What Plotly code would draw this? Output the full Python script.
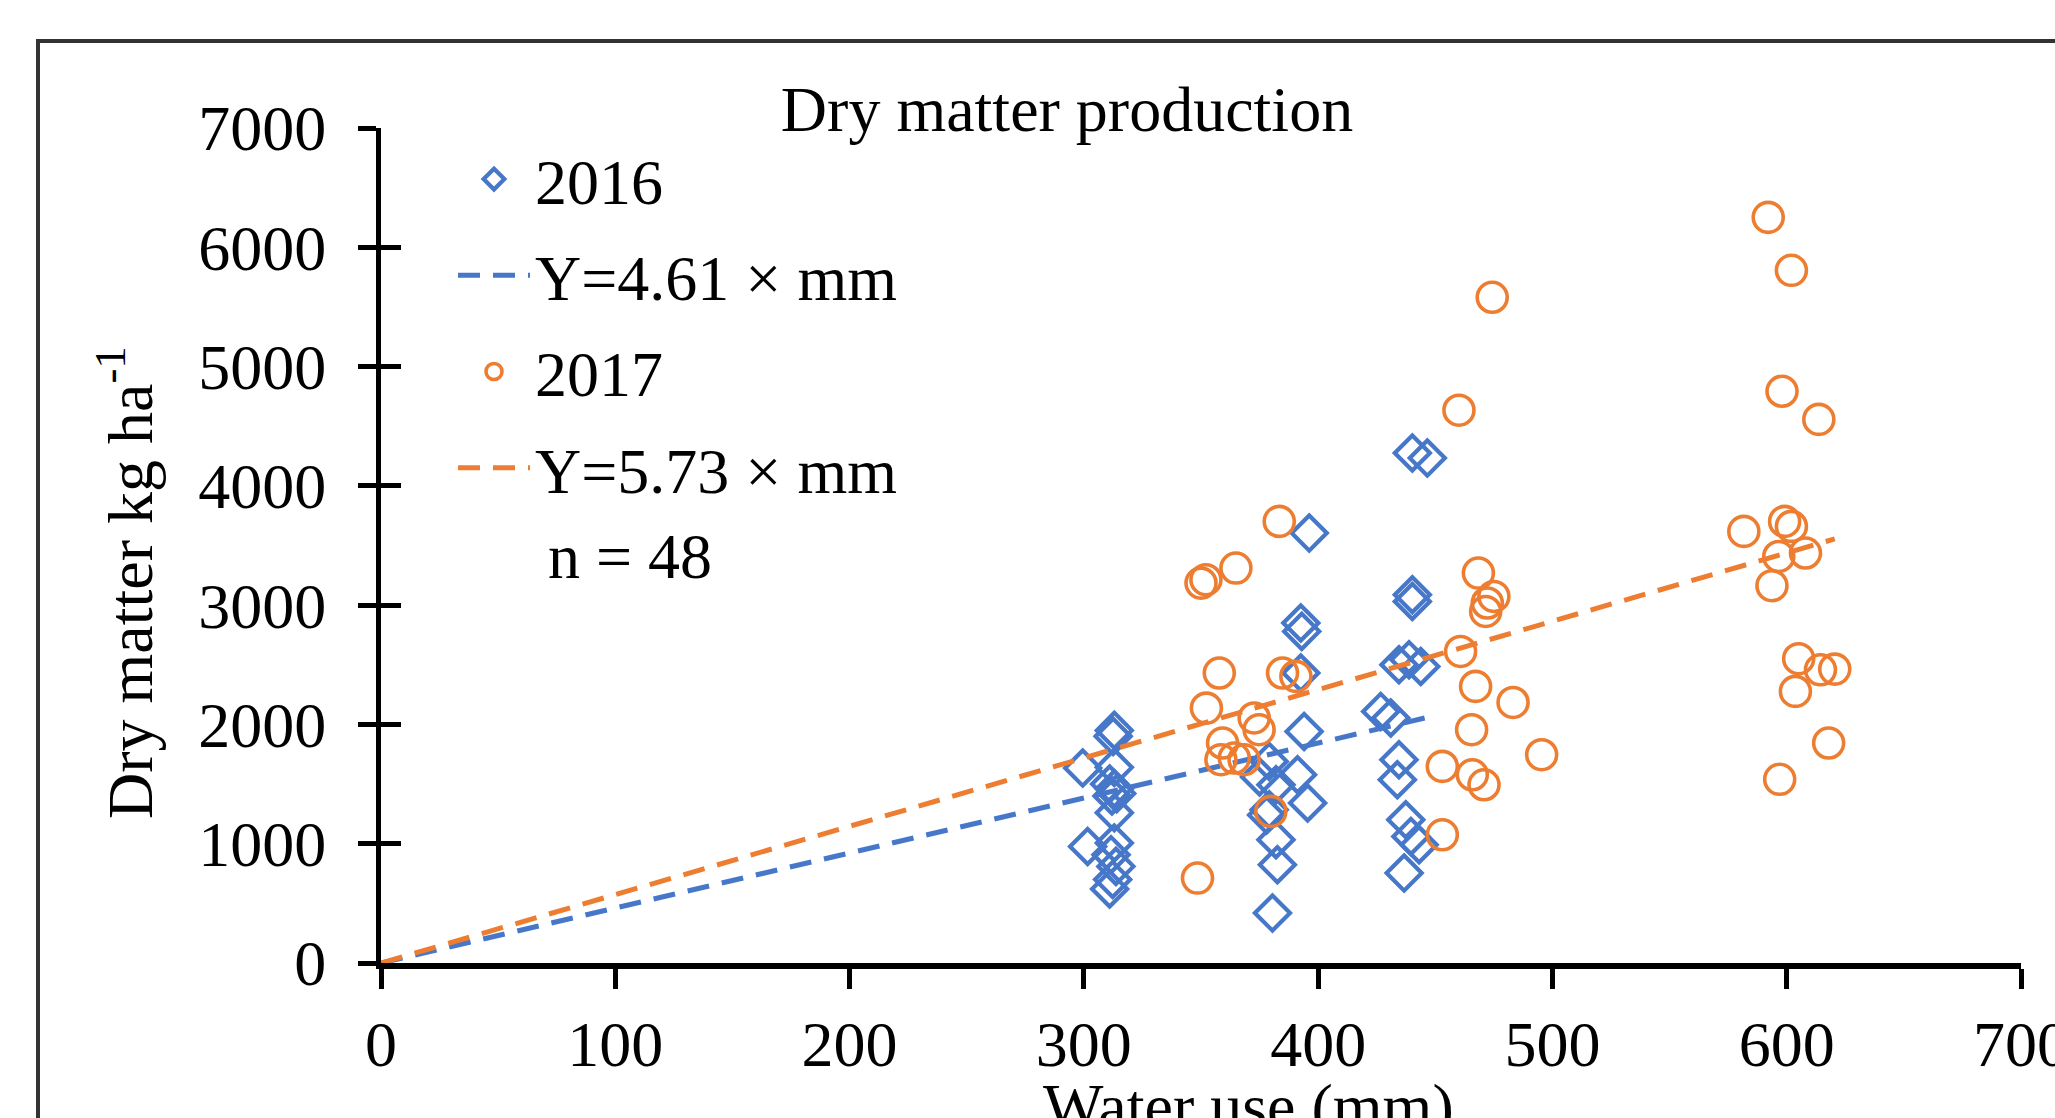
import plotly.graph_objects as go

# ---- data ----
wu_2016 = [313, 312.5, 299.5, 313, 311, 313, 314, 312, 313, 301.6, 313, 311.6, 313.7, 312.3, 311,
           396.2, 392.6, 393, 392.6, 394, 379.1, 391.2, 375, 382, 395.5, 379.1, 378, 382, 382.6, 380.5,
           440.2, 446.6, 440.2, 440.2, 434.5, 438.8, 443.8, 426.7, 431, 434.5, 433.8, 437.4, 439.6, 443.1, 436.7]
dm_2016 = [1950, 1900, 1634, 1640, 1500, 1460, 1420, 1400, 1259, 977, 1006, 908, 810, 700, 620,
           3604, 2850, 2780, 2431, 1941, 1690, 1578, 1560, 1494, 1341, 1285, 1240, 1034, 824, 419,
           4275, 4233, 3087, 3031, 2500, 2543, 2486, 2109, 2054, 1704, 1536, 1201, 1061, 992, 754]

wu_2017 = [383.4, 364.9, 350, 352.1, 357.8, 384.8, 390.5, 352.3, 372.7, 374.8, 359.2, 358.5, 364.2, 368.4, 379.8, 348.5,
           474.3, 460.1, 468.4, 475, 472.2, 471.5, 460.8, 467.2, 483.2, 465.5, 453, 465.8, 470.8, 495.4, 453,
           592.1, 602, 598, 613.7, 581.7, 599.1, 602, 596.6, 608, 593.7, 605.1, 614.4, 620.5, 603.7, 617.9, 597]
dm_2017 = [3702, 3311, 3185, 3213, 2431, 2431, 2403, 2137, 2054, 1956, 1844, 1704, 1718, 1704, 1271, 712,
           5581, 4634, 3269, 3073, 3018, 2947, 2612, 2319, 2184, 1956, 1648, 1578, 1494, 1746, 1075,
           6251, 5807, 4793, 4557, 3618, 3702, 3660, 3408, 3437, 3163, 2551, 2458, 2464, 2277, 1844, 1540]

slope_2016 = 4.61
slope_2017 = 5.73
x_ticks = [0, 100, 200, 300, 400, 500, 600, 700]
y_ticks = [0, 1000, 2000, 3000, 4000, 5000, 6000, 7000]

BLUE = "#4677C8"
ORANGE = "#ED7D31"
FONT = "Liberation Serif"
FS = 64

fit16_x = [0, max(wu_2016)]
fit17_x = [0, max(wu_2017)]

fig = go.Figure()
fig.add_trace(go.Scatter(
    x=wu_2016, y=dm_2016, mode="markers", name="2016", legendgroup="a",
    marker=dict(symbol="diamond-open", size=27, color=BLUE, line=dict(width=4.2, color=BLUE))))
fig.add_trace(go.Scatter(
    x=fit16_x, y=[slope_2016 * v for v in fit16_x], mode="lines", name="Y=4.61 × mm", legendgroup="b",
    line=dict(color=BLUE, width=5, dash="22px,13px")))
fig.add_trace(go.Scatter(
    x=wu_2017, y=dm_2017, mode="markers", name="2017", legendgroup="c",
    marker=dict(symbol="circle-open", size=30, color=ORANGE, line=dict(width=3.6, color=ORANGE))))
fig.add_trace(go.Scatter(
    x=fit17_x, y=[slope_2017 * v for v in fit17_x], mode="lines", name="Y=5.73 × mm", legendgroup="d",
    line=dict(color=ORANGE, width=5, dash="22px,13px")))
# helper (empty) trace so the overlaid tick axis is drawn
fig.add_trace(go.Scatter(x=[None], y=[None], yaxis="y2", showlegend=False, hoverinfo="skip"))

L, R, T, B = 381, 34, 128, 155
W, H = 2055, 1118
pw = W - L - R
ph = H - T - B

def px(xp):
    return (xp - L) / pw

def py(yp):
    return (H - B - yp) / ph

fig.update_layout(
    width=W, height=H,
    margin=dict(l=L, r=R, t=T, b=B, pad=0, autoexpand=False),
    paper_bgcolor="white", plot_bgcolor="white",
    font=dict(family=FONT, size=FS, color="black"),
    title=dict(text="Dry matter production", x=px(1067), xref="paper", xanchor="center",
               y=1 - 109 / H, yref="container", yanchor="middle",
               font=dict(family=FONT, size=FS, color="black")),
    xaxis=dict(range=[0, 700], tickvals=x_ticks, showgrid=False, zeroline=False,
               showline=True, linewidth=6, linecolor="black", automargin=False,
               ticks="outside", ticklen=20, tickwidth=4.5, tickcolor="black",
               ticklabelstandoff=0, ticklabeloverflow="allow",
               tickfont=dict(family=FONT, size=FS, color="black")),
    yaxis=dict(range=[0, 7000], tickvals=y_ticks, showgrid=False, zeroline=False,
               showline=True, linewidth=5, linecolor="black", automargin=False,
               ticks="outside", ticklen=18, tickwidth=4.5, tickcolor="black",
               ticklabelstandoff=19, ticklabeloverflow="allow",
               tickfont=dict(family=FONT, size=FS, color="black")),
    yaxis2=dict(range=[0, 7000], tickvals=y_ticks, overlaying="y", side="left",
                showgrid=False, zeroline=False, showline=False, showticklabels=False,
                automargin=False,
                ticks="inside", ticklen=20, tickwidth=4.5, tickcolor="black"),
    legend=dict(x=px(453), y=py(131), xanchor="left", yanchor="top",
                bgcolor="rgba(0,0,0,0)", borderwidth=0,
                font=dict(family=FONT, size=FS, color="black"),
                tracegroupgap=10, itemwidth=72),
    showlegend=True,
    annotations=[
        dict(text="n = 48", x=px(546), y=py(556), xref="paper", yref="paper",
             xanchor="left", yanchor="middle", showarrow=False,
             font=dict(family=FONT, size=FS, color="black")),
        dict(text="Dry matter kg ha<sup>-1</sup>", x=px(125), y=py(583), xref="paper", yref="paper",
             xanchor="center", yanchor="middle", textangle=-90, showarrow=False,
             font=dict(family=FONT, size=FS, color="black")),
        dict(text="Water use (mm)", x=px(1248), y=py(1069), xref="paper", yref="paper",
             xanchor="center", yanchor="top", showarrow=False,
             font=dict(family=FONT, size=FS, color="black")),
    ],
    shapes=[dict(type="rect", xref="paper", yref="paper",
                 x0=px(38), x1=1.2, y0=-0.4, y1=py(41),
                 line=dict(color="#333333", width=4), fillcolor="rgba(0,0,0,0)", layer="below")],
)

fig.write_html("out.html")
